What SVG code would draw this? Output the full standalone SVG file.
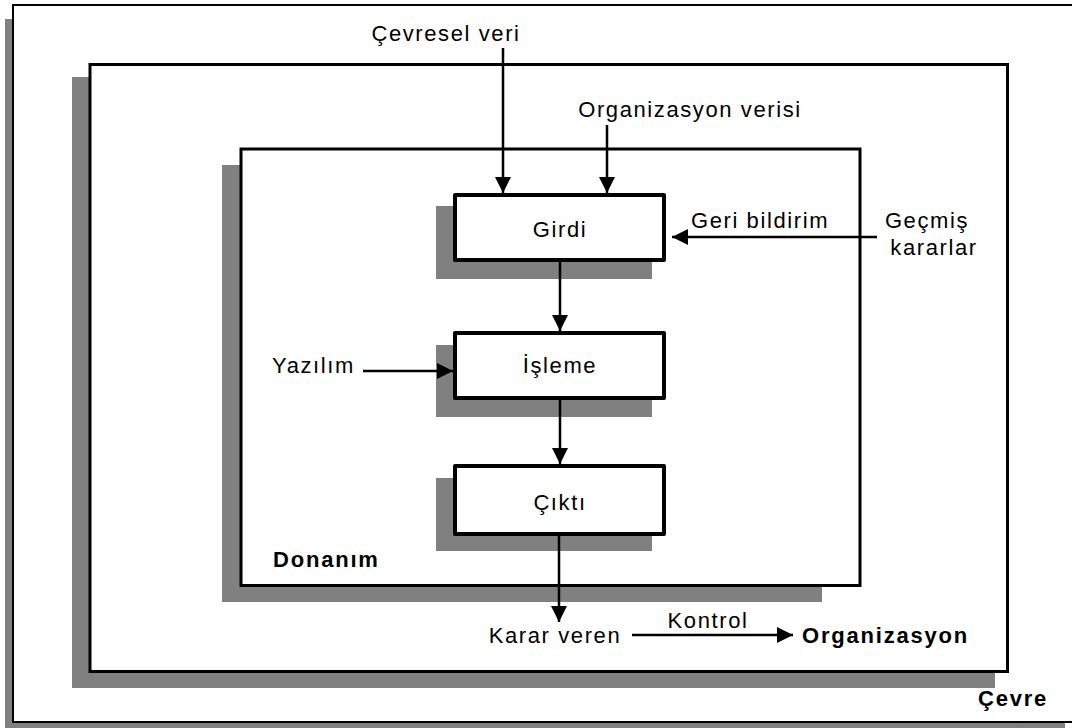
<svg xmlns="http://www.w3.org/2000/svg" width="1072" height="728" viewBox="0 0 1072 728">
  <style>
    .shadow { fill: #808080; stroke: none; }
    .frame { fill: #ffffff; stroke: #000000; }
    .box { fill: #ffffff; stroke: #000000; stroke-width: 4; stroke-linejoin: round; }
    .lbl { font-family: "Liberation Sans", Arial, sans-serif; font-size: 22px; letter-spacing: 1.6px; fill: #000000; }
    .bold { font-weight: bold; letter-spacing: 1.8px; }
    .mid { text-anchor: middle; }
    .conn { stroke: #000000; stroke-width: 2.5; fill: none; marker-end: url(#arrow); }
  </style>
  <defs>
    <marker id="arrow" markerUnits="userSpaceOnUse" markerWidth="16" markerHeight="16" viewBox="0 0 16 16" refX="16" refY="8" orient="auto">
      <path d="M0,0 L16,8 L0,16 Z" fill="#000000"/>
    </marker>
  </defs>

  <rect width="1072" height="728" fill="#ffffff"/>

  <!-- Environment (Çevre) -->
  <g id="cevre">
    <rect class="shadow" x="5" y="19" width="1060" height="720"/>
    <rect class="frame" x="13" y="5" width="1075" height="717" stroke-width="2"/>
    <text class="lbl bold" x="978" y="706">Çevre</text>
  </g>

  <!-- Organization -->
  <g id="organizasyon">
    <rect class="shadow" x="72" y="77" width="923" height="611"/>
    <rect class="frame" x="90" y="64.5" width="917.5" height="607" stroke-width="3"/>
    <text class="lbl bold" x="802" y="643">Organizasyon</text>
  </g>

  <!-- Hardware -->
  <g id="donanim">
    <rect class="shadow" x="222" y="165" width="600" height="437"/>
    <rect class="frame" x="241" y="149" width="619" height="436.5" stroke-width="3"/>
    <text class="lbl bold" x="273" y="567">Donanım</text>
  </g>

  <g id="girdi">
    <rect class="shadow" x="436" y="206" width="216" height="73"/>
    <rect class="box" x="455" y="195" width="209" height="65"/>
    <text class="lbl mid" x="560" y="237">Girdi</text>
  </g>

  <g id="isleme">
    <rect class="shadow" x="436" y="345" width="216" height="72"/>
    <rect class="box" x="455" y="333" width="209" height="65"/>
    <text class="lbl mid" x="560" y="373">İşleme</text>
  </g>

  <g id="cikti">
    <rect class="shadow" x="436" y="478" width="216" height="73"/>
    <rect class="box" x="455" y="466" width="209" height="68"/>
    <text class="lbl mid" x="560" y="510">Çıktı</text>
  </g>

  <!-- Free-standing labels -->
  <g id="cevresel-veri"><text class="lbl mid" x="446" y="41">Çevresel veri</text></g>
  <g id="organizasyon-verisi"><text class="lbl mid" x="690" y="117">Organizasyon verisi</text></g>
  <g id="gecmis-kararlar">
    <text class="lbl mid" x="927" y="228">Geçmiş</text>
    <text class="lbl mid" x="934" y="255">kararlar</text>
  </g>
  <g id="yazilim"><text class="lbl" x="272" y="373">Yazılım</text></g>
  <g id="karar-veren"><text class="lbl mid" x="555" y="643">Karar veren</text></g>

  <!-- Connectors -->
  <g id="connectors">
    <line class="conn" x1="503" y1="48" x2="503" y2="193"/>
    <line class="conn" x1="607" y1="125" x2="607" y2="193"/>
    <line class="conn" x1="877" y1="237" x2="672" y2="237"/>
    <text class="lbl mid" x="760" y="228">Geri bildirim</text>
    <line class="conn" x1="560" y1="262" x2="560" y2="331"/>
    <line class="conn" x1="363" y1="371" x2="453" y2="371"/>
    <line class="conn" x1="560" y1="400" x2="560" y2="464"/>
    <line class="conn" x1="559" y1="536" x2="559" y2="622"/>
    <line class="conn" x1="632" y1="635" x2="793" y2="635"/>
    <text class="lbl mid" x="708" y="628">Kontrol</text>
  </g>
</svg>
